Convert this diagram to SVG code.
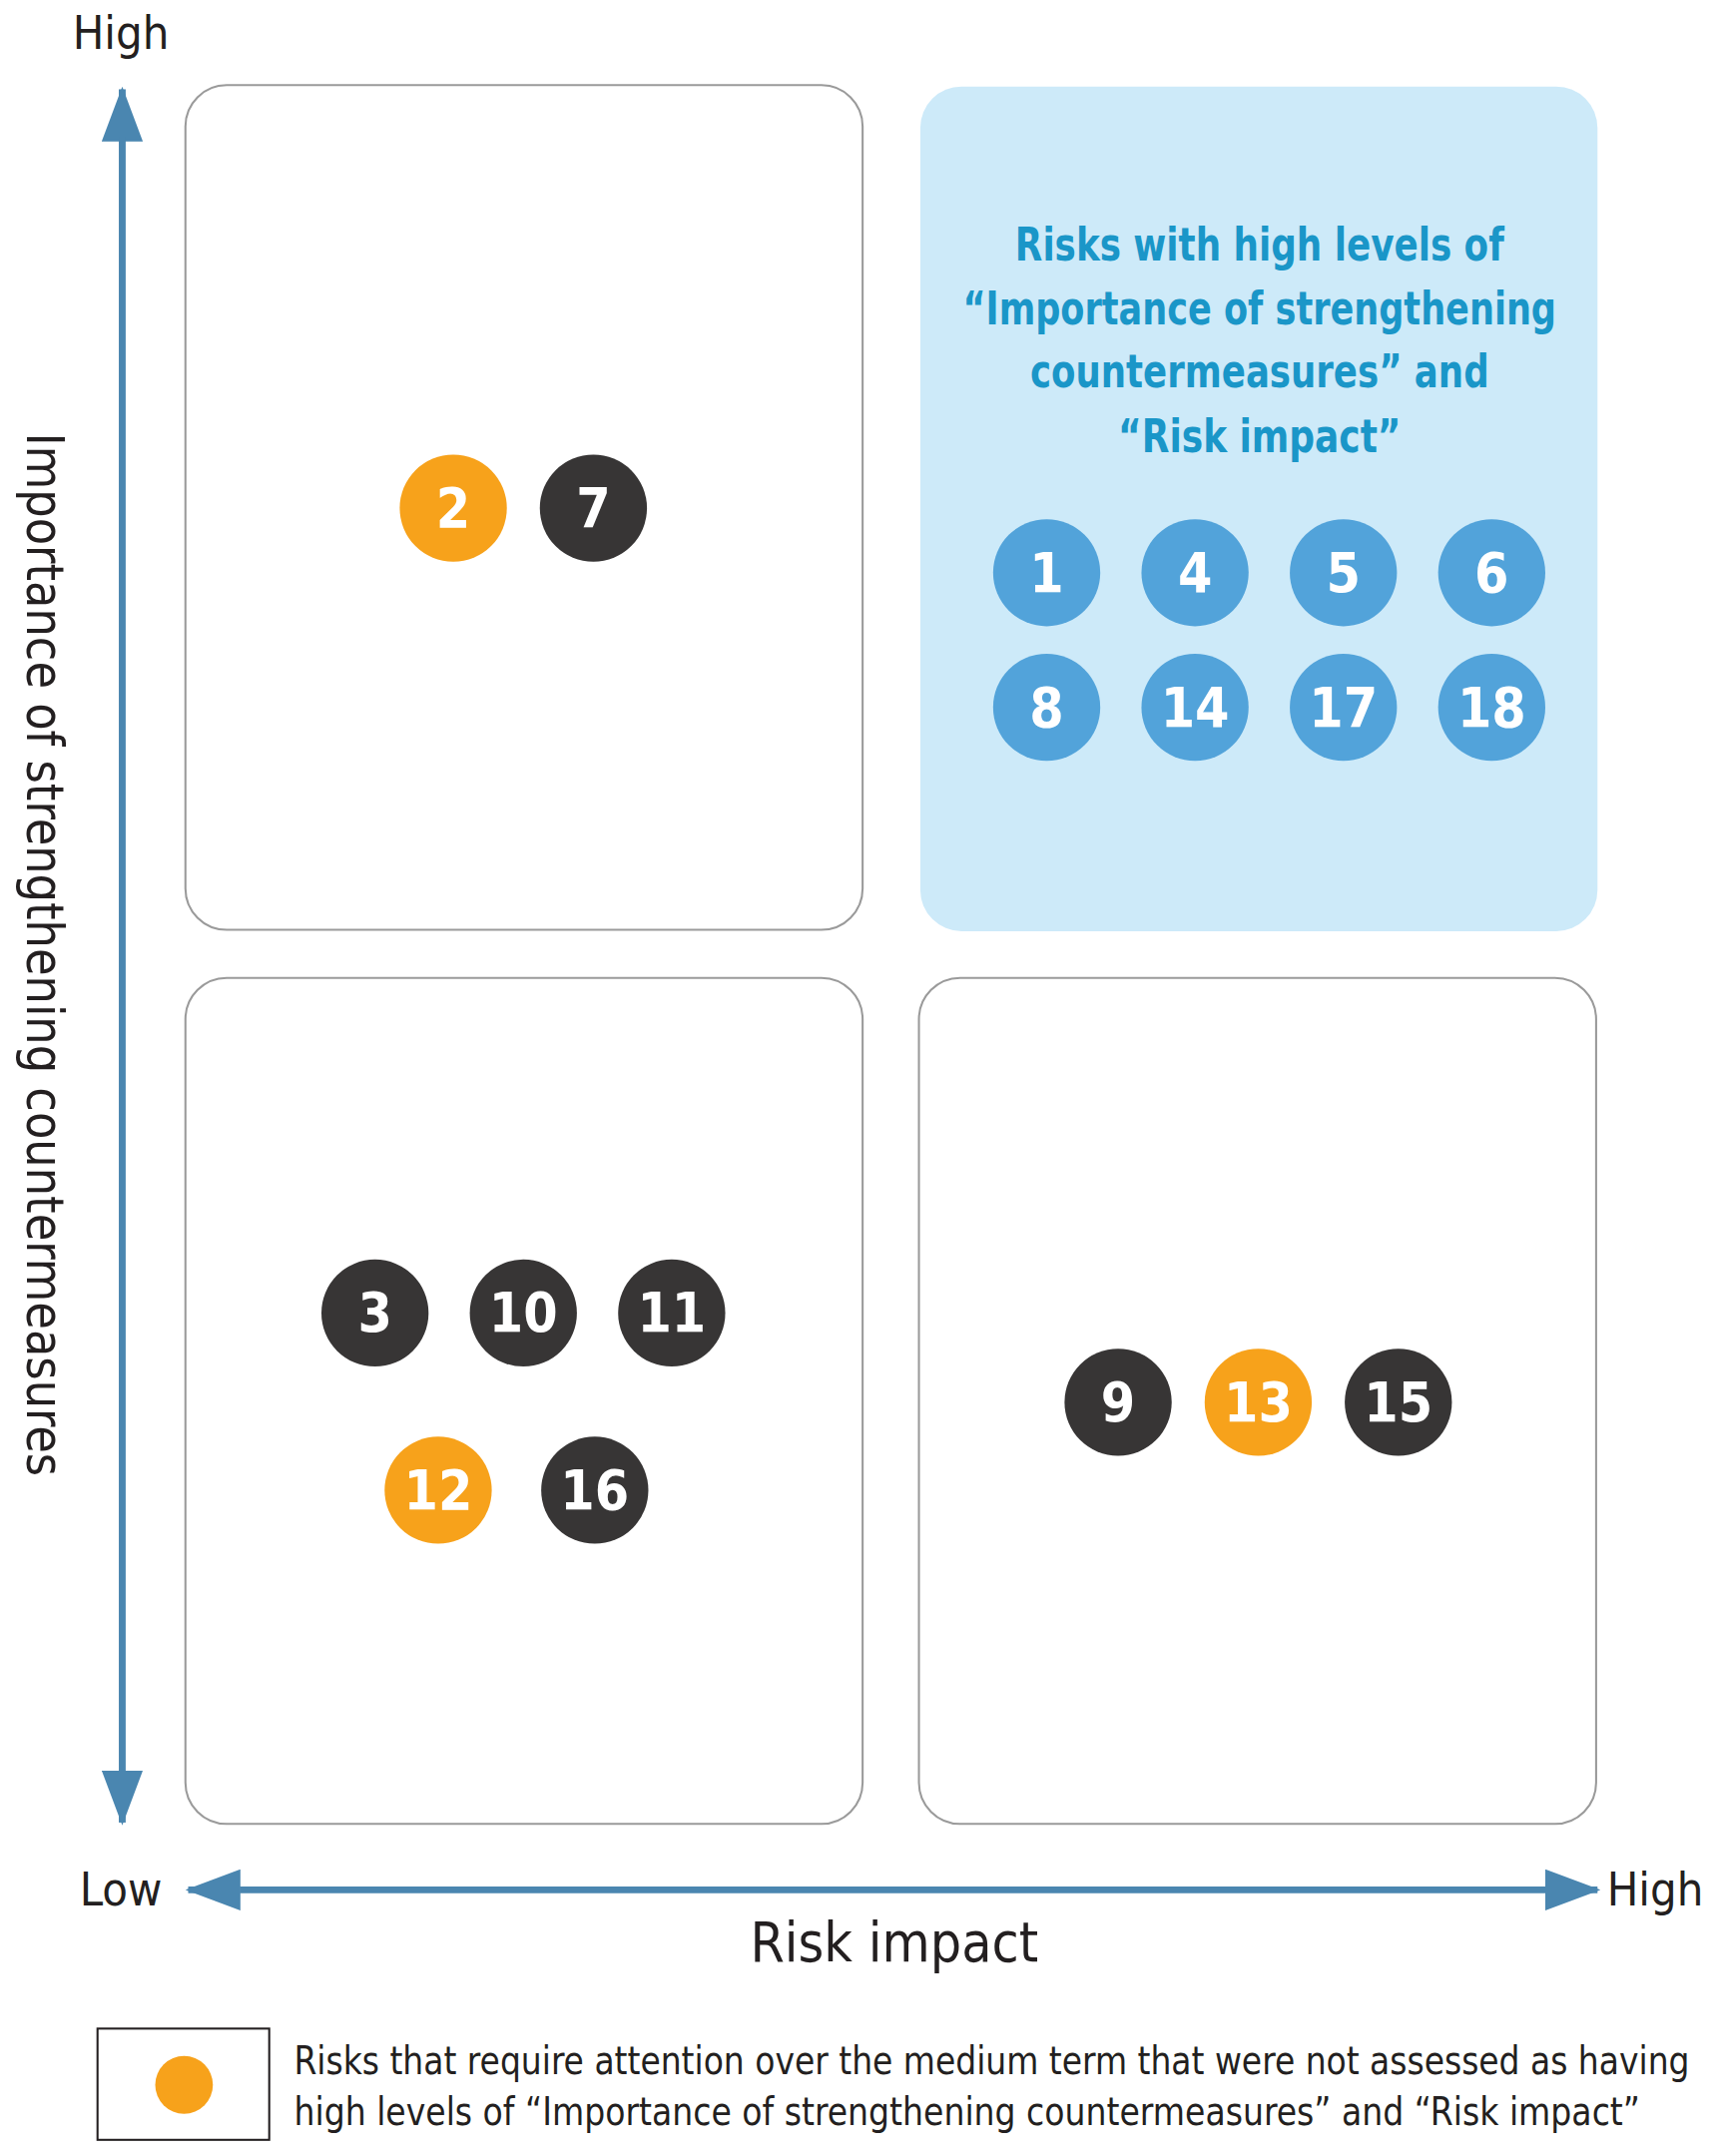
<svg xmlns="http://www.w3.org/2000/svg" width="1720" height="2160" viewBox="0 0 1720 2160">
<style>
text{font-family:"DejaVu Sans Condensed","Liberation Sans",sans-serif;}
.box{fill:#fff;stroke:#9a9a9a;stroke-width:1.5}
.lbl{font-size:34px;fill:#231f20;text-anchor:middle;dominant-baseline:central}
.ttl{font-size:33px;font-weight:bold;fill:#1a96c8;text-anchor:middle}
.num{font-size:40px;font-weight:bold;fill:#fff;text-anchor:middle;dominant-baseline:central}
.b{fill:#52a3da}.o{fill:#f7a21b}.d{fill:#373535}
.ax{stroke:#4a86b0;stroke-width:5;fill:none}
</style>
<defs>
<marker id="ah" viewBox="0 0 40 30" refX="38" refY="15" markerWidth="40" markerHeight="30" markerUnits="userSpaceOnUse" orient="auto"><path d="M0,0 L40,15 L0,30 Z" fill="#4a86b0"/></marker>
</defs>
<rect width="1720" height="2160" fill="#fff"/>
<g transform="scale(1.376)">
<g id="connectors">
<line class="ax" x1="89" y1="100" x2="89" y2="65" marker-end="url(#ah)"/>
<line class="ax" x1="89" y1="1290" x2="89" y2="1327" marker-end="url(#ah)"/>
<line class="ax" x1="89" y1="100" x2="89" y2="1290"/>
<line class="ax" x1="175" y1="1376" x2="137" y2="1376" marker-end="url(#ah)"/>
<line class="ax" x1="1125" y1="1376" x2="1163" y2="1376" marker-end="url(#ah)"/>
<line class="ax" x1="175" y1="1376" x2="1125" y2="1376"/>
</g>
<g id="axis-labels">
<text class="lbl" x="88" y="24">High</text>
<text class="lbl" x="88" y="1376">Low</text>
<text class="lbl" x="1205" y="1376">High</text>
<text class="lbl" x="651" y="1414" style="font-size:40px">Risk impact</text>
<text class="lbl" transform="translate(32,695) rotate(90)" style="font-size:37px" textLength="760" lengthAdjust="spacingAndGlyphs">Importance of strengthening countermeasures</text>
</g>
<g id="q-tl"><rect class="box" x="135" y="62" width="493" height="615" rx="30"/>
<circle class="o" cx="330" cy="370" r="39"/><text class="num" x="330" y="370">2</text>
<circle class="d" cx="432" cy="370" r="39"/><text class="num" x="432" y="370">7</text></g>
<g id="q-tr"><rect x="670" y="63" width="493" height="615" rx="30" fill="#cdeaf9"/>
<text class="ttl" x="917" y="190" textLength="356" lengthAdjust="spacingAndGlyphs">Risks with high levels of</text>
<text class="ttl" x="917" y="236" textLength="432" lengthAdjust="spacingAndGlyphs">“Importance of strengthening</text>
<text class="ttl" x="917" y="282" textLength="334" lengthAdjust="spacingAndGlyphs">countermeasures” and</text>
<text class="ttl" x="917" y="329" textLength="206" lengthAdjust="spacingAndGlyphs">“Risk impact”</text>
<circle class="b" cx="762" cy="417" r="39"/><text class="num" x="762" y="417">1</text>
<circle class="b" cx="870" cy="417" r="39"/><text class="num" x="870" y="417">4</text>
<circle class="b" cx="978" cy="417" r="39"/><text class="num" x="978" y="417">5</text>
<circle class="b" cx="1086" cy="417" r="39"/><text class="num" x="1086" y="417">6</text>
<circle class="b" cx="762" cy="515" r="39"/><text class="num" x="762" y="515">8</text>
<circle class="b" cx="870" cy="515" r="39"/><text class="num" x="870" y="515">14</text>
<circle class="b" cx="978" cy="515" r="39"/><text class="num" x="978" y="515">17</text>
<circle class="b" cx="1086" cy="515" r="39"/><text class="num" x="1086" y="515">18</text></g>
<g id="q-bl"><rect class="box" x="135" y="712" width="493" height="616" rx="30"/>
<circle class="d" cx="273" cy="956" r="39"/><text class="num" x="273" y="956">3</text>
<circle class="d" cx="381" cy="956" r="39"/><text class="num" x="381" y="956">10</text>
<circle class="d" cx="489" cy="956" r="39"/><text class="num" x="489" y="956">11</text>
<circle class="o" cx="319" cy="1085" r="39"/><text class="num" x="319" y="1085">12</text>
<circle class="d" cx="433" cy="1085" r="39"/><text class="num" x="433" y="1085">16</text></g>
<g id="q-br"><rect class="box" x="669" y="712" width="493" height="616" rx="30"/>
<circle class="d" cx="814" cy="1021" r="39"/><text class="num" x="814" y="1021">9</text>
<circle class="o" cx="916" cy="1021" r="39"/><text class="num" x="916" y="1021">13</text>
<circle class="d" cx="1018" cy="1021" r="39"/><text class="num" x="1018" y="1021">15</text></g>
<g id="legend"><rect x="71" y="1477" width="125" height="81" fill="#fff" stroke="#231f20" stroke-width="1.5"/>
<circle class="o" cx="134" cy="1518" r="21"/>
<text x="214" y="1510" style="font-size:29px;fill:#231f20" textLength="1016" lengthAdjust="spacingAndGlyphs">Risks that require attention over the medium term that were not assessed as having</text>
<text x="214" y="1547" style="font-size:29px;fill:#231f20" textLength="980" lengthAdjust="spacingAndGlyphs">high levels of “Importance of strengthening countermeasures” and “Risk impact”</text></g>
</g>
</svg>
